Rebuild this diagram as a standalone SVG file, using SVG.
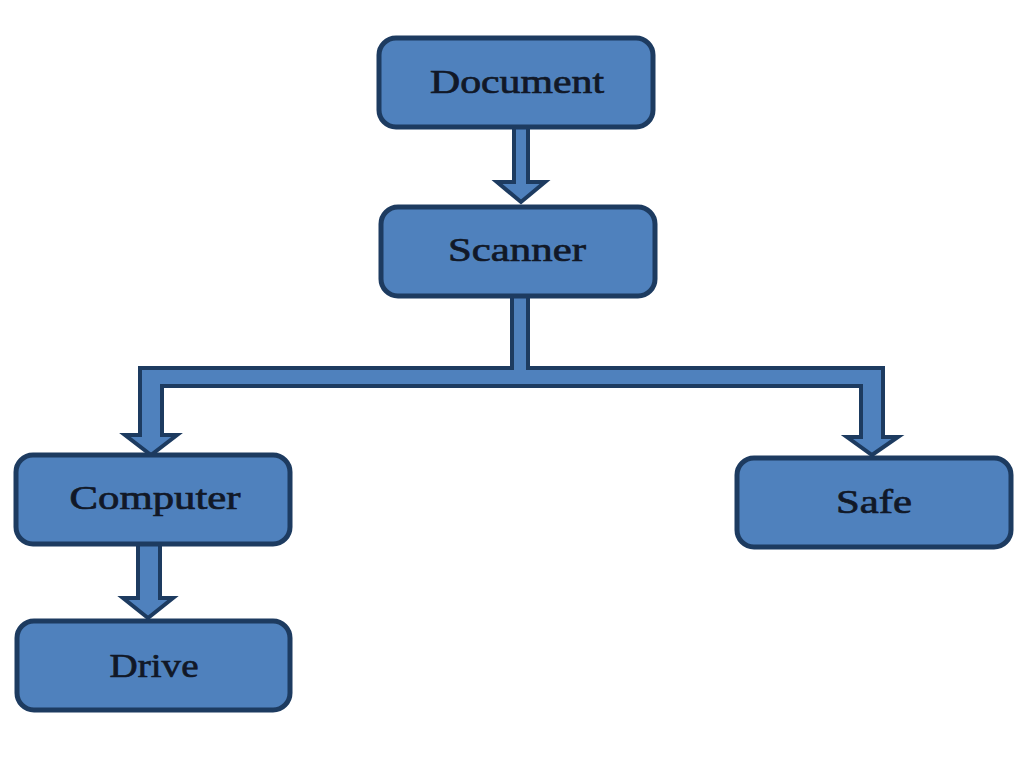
<svg xmlns="http://www.w3.org/2000/svg" width="1034" height="764" viewBox="0 0 1034 764">
<style>
.node{fill:#4f81bd;stroke:#1d3b60;stroke-width:5}
.conn{fill:#4f81bd;stroke:#1d3b60;stroke-width:4;stroke-linejoin:miter}
.lbl{font-family:"Liberation Serif","Times New Roman",serif;font-size:34px;fill:#111827;stroke:#111827;stroke-width:0.7;text-anchor:middle}
</style>
<rect width="1034" height="764" fill="#ffffff"/>
<g id="connectors">
<polygon class="conn" points="514,126 514,182 497,182 521,202 545,182 528,182 528,126"/>
<polygon class="conn" points="512,295 512,368 140,368 140,435 125,435 151,455 177,435 162,435 162,386 861,386 861,437 847,437 872,455 898,437 883,437 883,368 528,368 528,295"/>
<polygon class="conn" points="138,543 138,598 123,598 148,618 173,598 160,598 160,543"/>
</g>
<g id="node-document">
<rect class="node" x="379" y="38" width="274" height="89" rx="17"/>
<text class="lbl" x="517" y="93" textLength="174" lengthAdjust="spacingAndGlyphs">Document</text>
</g>
<g id="node-scanner">
<rect class="node" x="381" y="207" width="274" height="89" rx="17"/>
<text class="lbl" x="517" y="261" textLength="138" lengthAdjust="spacingAndGlyphs">Scanner</text>
</g>
<g id="node-computer">
<rect class="node" x="16" y="455" width="274" height="89" rx="17"/>
<text class="lbl" x="155" y="509" textLength="171" lengthAdjust="spacingAndGlyphs">Computer</text>
</g>
<g id="node-drive">
<rect class="node" x="17" y="621" width="273" height="89" rx="17"/>
<text class="lbl" x="154" y="677" textLength="89" lengthAdjust="spacingAndGlyphs">Drive</text>
</g>
<g id="node-safe">
<rect class="node" x="737" y="458" width="274" height="89" rx="17"/>
<text class="lbl" x="874" y="513" textLength="76" lengthAdjust="spacingAndGlyphs">Safe</text>
</g>
</svg>
